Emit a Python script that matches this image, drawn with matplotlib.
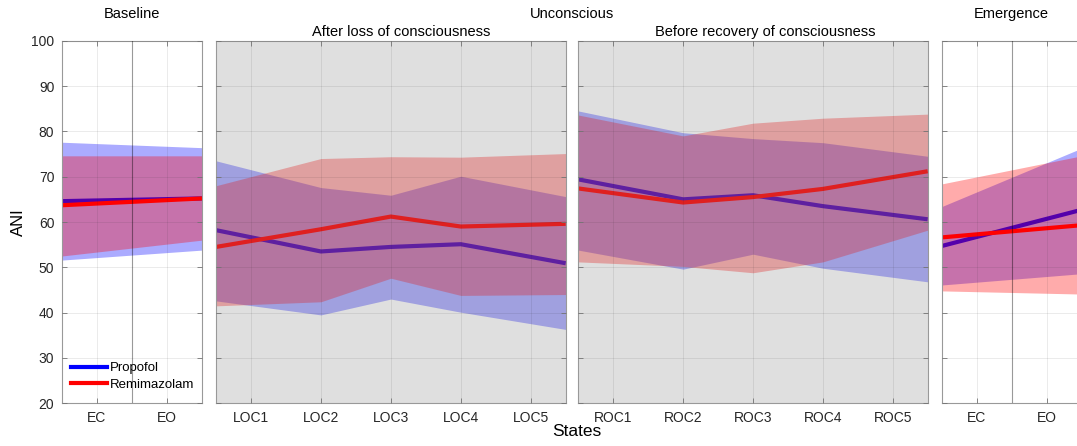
import numpy as np
import matplotlib
matplotlib.use('Agg')
import matplotlib.pyplot as plt
from matplotlib.patches import Rectangle
from matplotlib.lines import Line2D

plt.rcParams['font.family'] = ['Liberation Sans', 'DejaVu Sans']

# ---- data (ANI, mean and band limits) ----
base_labels = ['EC', 'EO']
loc_labels = ['LOC1', 'LOC2', 'LOC3', 'LOC4', 'LOC5']
roc_labels = ['ROC1', 'ROC2', 'ROC3', 'ROC4', 'ROC5']
emer_labels = ['EC', 'EO']

prop_base = [64.6, 65.2]
prop_base_lo = [51.6, 53.8]
prop_base_hi = [77.6, 76.4]
remi_base = [63.7, 65.2]
remi_base_lo = [52.5, 56.0]
remi_base_hi = [74.6, 74.6]

prop_loc = [58.2, 53.5, 54.5, 55.1, 50.9]
prop_loc_lo = [42.6, 39.5, 43.0, 40.1, 36.3]
prop_loc_hi = [73.5, 67.6, 65.9, 70.1, 65.6]
remi_loc = [54.5, 58.4, 61.2, 59.0, 59.6]
remi_loc_lo = [41.5, 42.4, 47.6, 43.8, 44.0]
remi_loc_hi = [68.0, 74.0, 74.4, 74.3, 75.1]

prop_roc = [69.4, 65.0, 65.9, 63.5, 60.6]
prop_roc_lo = [53.8, 49.6, 52.9, 49.8, 46.8]
prop_roc_hi = [84.5, 79.7, 78.4, 77.5, 74.5]
remi_roc = [67.4, 64.3, 65.5, 67.3, 71.2]
remi_roc_lo = [51.2, 50.2, 48.8, 51.2, 58.2]
remi_roc_hi = [83.6, 79.0, 81.8, 82.9, 83.8]

prop_emer = [54.7, 62.7]
prop_emer_lo = [46.1, 48.6]
prop_emer_hi = [63.4, 76.3]
remi_emer = [56.6, 59.3]
remi_emer_lo = [44.8, 44.1]
remi_emer_hi = [68.4, 74.6]

BLUE = (0, 0, 1)
RED = (1, 0, 0)

W, H = 1077, 446
fig = plt.figure(figsize=(W / 100, H / 100), dpi=100)


def px_axes(left, right, top=40.7, bottom=403.3):
    return fig.add_axes([left / W, 1 - bottom / H, (right - left) / W, (bottom - top) / H])


def draw_panel(ax, labels, pm, plo, phi, rm, rlo, rhi, shaded=False, midline=False, ylabels=False):
    n = len(labels)
    x = np.arange(1, n + 1, dtype=float)
    x[0] -= 0.5
    x[-1] += 0.5
    ax.fill_between(x, plo, phi, color=BLUE, alpha=0.33, lw=0, zorder=1)
    ax.plot(x, pm, color=BLUE, lw=3, zorder=1.1, solid_capstyle='butt')
    ax.fill_between(x, rlo, rhi, color=RED, alpha=0.33, lw=0, zorder=1.2)
    ax.plot(x, rm, color=RED, lw=3, zorder=1.3, solid_capstyle='butt')
    if shaded:
        ax.add_patch(Rectangle((0, 0), 1, 1, transform=ax.transAxes, color='0.5',
                               alpha=0.25, lw=0, zorder=1.5))
    if midline:
        ax.axvline(1.5, color='k', alpha=0.4, lw=0.8, zorder=2.6)
    ax.set_xlim(0.5, n + 0.5)
    ax.set_ylim(20, 100)
    ax.set_xticks(np.arange(1, n + 1))
    ax.set_xticklabels(labels)
    ax.set_yticks(np.arange(20, 101, 10))
    if not ylabels:
        ax.set_yticklabels([])
    ax.set_axisbelow(False)
    ax.grid(True, color='0.15', alpha=0.11, lw=0.6)
    ax.tick_params(direction='in', length=3.5, width=0.6, color='0.45',
                   labelsize=10, labelcolor='#262626', top=True, right=True, pad=5.5)
    for s in ax.spines.values():
        s.set_color('0.6')
        s.set_linewidth(0.8)


ax1 = px_axes(62, 202)
ax2 = px_axes(216, 565.7)
ax3 = px_axes(578.3, 927.7)
ax4 = px_axes(941.7, 1081.7)

draw_panel(ax1, base_labels, prop_base, prop_base_lo, prop_base_hi,
           remi_base, remi_base_lo, remi_base_hi, midline=True, ylabels=True)
draw_panel(ax2, loc_labels, prop_loc, prop_loc_lo, prop_loc_hi,
           remi_loc, remi_loc_lo, remi_loc_hi, shaded=True)
draw_panel(ax3, roc_labels, prop_roc, prop_roc_lo, prop_roc_hi,
           remi_roc, remi_roc_lo, remi_roc_hi, shaded=True)
draw_panel(ax4, emer_labels, prop_emer, prop_emer_lo, prop_emer_hi,
           remi_emer, remi_emer_lo, remi_emer_hi, midline=True)

handles = [Line2D([], [], color=BLUE, lw=3), Line2D([], [], color=RED, lw=3)]
ax1.legend(handles, ['Propofol', 'Remimazolam'], loc='lower left',
           bbox_to_anchor=(0.065, 0.035), frameon=False, fontsize=9.5,
           handlelength=2.7, handletextpad=0.25, labelspacing=0.3,
           borderpad=0, borderaxespad=0)

# titles
fig.text(132 / W, 1 - 14 / H, 'Baseline', ha='center', va='center', fontsize=10.5)
fig.text(572 / W, 1 - 14 / H, 'Unconscious', ha='center', va='center', fontsize=10.5)
fig.text(1011 / W, 1 - 14 / H, 'Emergence', ha='center', va='center', fontsize=10.5)
fig.text(401 / W, 1 - 32 / H, 'After loss of consciousness', ha='center', va='center', fontsize=10.5)
fig.text(765 / W, 1 - 32 / H, 'Before recovery of consciousness', ha='center', va='center', fontsize=10.5)

fig.text(18 / W, 1 - 222 / H, 'ANI', rotation=90, ha='center', va='center', fontsize=12)
fig.text(577 / W, 1 - 431 / H, 'States', ha='center', va='center', fontsize=12.5)

fig.savefig('out.png', dpi=100)
